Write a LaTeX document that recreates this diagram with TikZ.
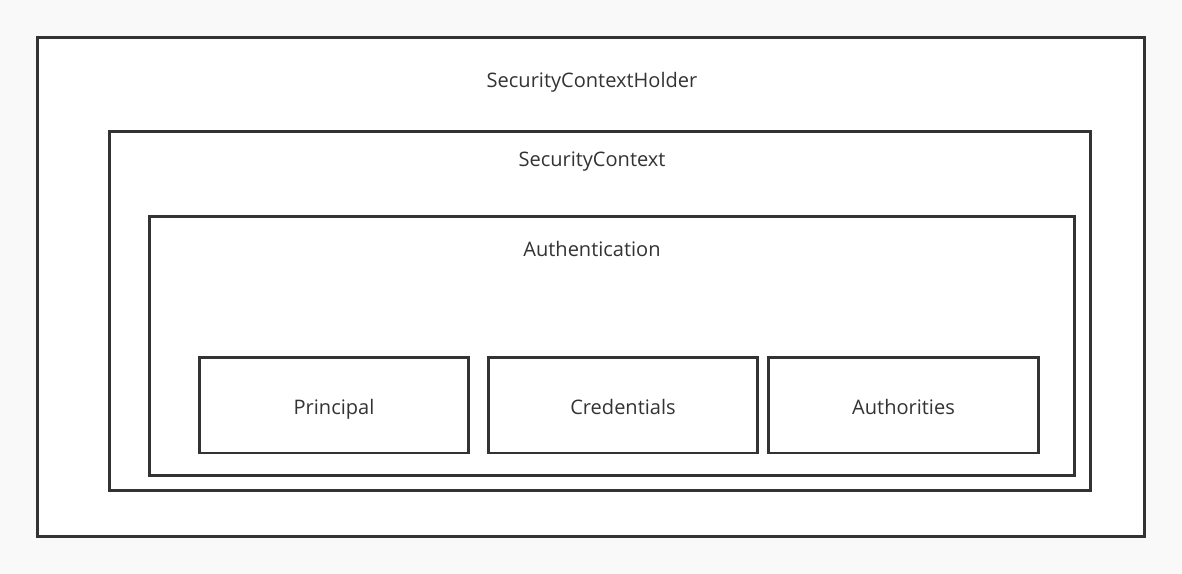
\documentclass[tikz,border=0pt]{standalone}
\usepackage{fontspec}
\setmainfont{Open Sans}
\definecolor{edge}{HTML}{333333}
\definecolor{paper}{HTML}{F9F9F9}
\tikzset{
  box/.style={draw=edge, fill=white, line width=1.7pt, inner sep=0pt},
  lbl/.style={text=edge, font=\fontsize{11.4}{13}\selectfont, text height=1.5ex, text depth=.3ex}
}
\begin{document}
\begin{tikzpicture}[x=0.02cm, y=-0.02cm]
      \fill[paper] (0,0) rectangle (1182,574);
      \useasboundingbox (0,0) rectangle (1182,574);
      \draw
        (591,287) node[box, minimum width=22.16cm, minimum height=10cm] (holder){}
        (600,311) node[box, minimum width=19.64cm, minimum height=7.2cm] (context){}
        (612,346) node[box, minimum width=18.52cm, minimum height=5.2cm] (auth){}
        (334,405) node[box, minimum width=5.4cm, minimum height=1.92cm] (principal){}
        (623,405) node[box, minimum width=5.4cm, minimum height=1.92cm] (credentials){}
        (903.5,405) node[box, minimum width=5.42cm, minimum height=1.92cm] (authorities){};
      \begin{scope}[lbl]
        \node at (592,81.5) (holderlbl) {SecurityContextHolder};
        \node at (592,160.5) (contextlbl) {SecurityContext};
        \node at (592,250.5) (authlbl) {Authentication};
        \node at (334,408.5) (principallbl) {Principal};
        \node at (623,408.5) (credentialslbl) {Credentials};
        \node at (903.5,408.5) (authoritieslbl) {Authorities};
      \end{scope}
    \end{tikzpicture}
\end{document}
